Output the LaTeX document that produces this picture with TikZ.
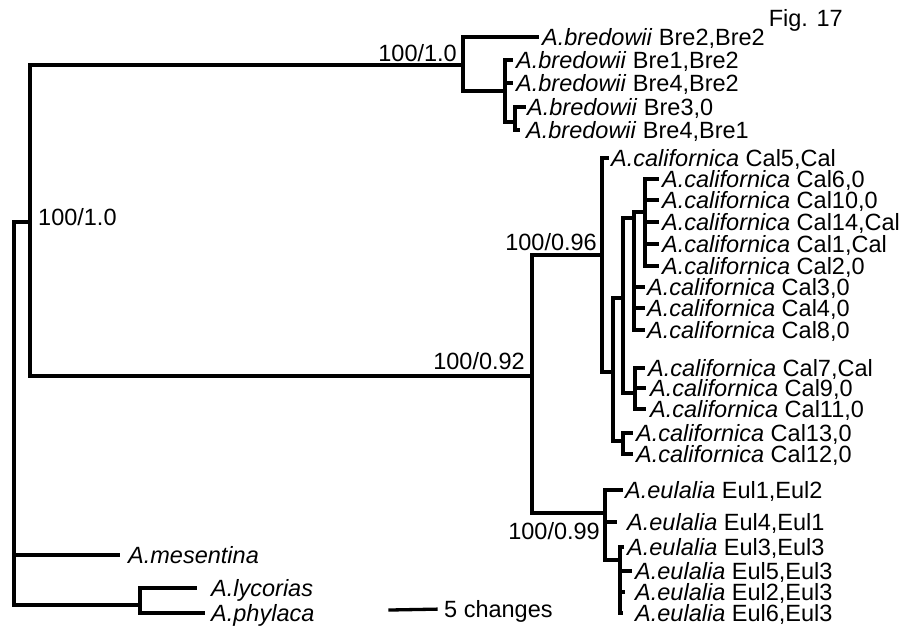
\documentclass[tikz,border=0pt]{standalone}
\usepackage{fontspec}
\setmainfont{Liberation Sans}
\tikzset{
  br/.style={line width=3.3pt, line cap=rect, line join=miter},
  tip/.style={anchor=west, inner sep=0pt, text height=17pt, text depth=0pt, font=\fontsize{23.5}{23.5}\selectfont},
  lab/.style={inner sep=0pt, text height=17pt, text depth=0pt, font=\fontsize{23.5}{23.5}\selectfont},
  gap/.style={shorten >=#1}
}
\newcommand{\taxon}[2]{\textit{A.#1} #2}
\begin{document}
\begin{tikzpicture}[x=1pt,y=-1pt]
\useasboundingbox (0,0) rectangle (909,629);
\fill[white] (0,0) rectangle (909,629);
% internal nodes
\coordinate (R) at (14,400);
\coordinate (n1) at (30,222);
\coordinate (nB) at (463,65);
\coordinate (nB2) at (505,91);
\coordinate (nB3) at (515,122);
\coordinate (n92) at (532,376);
\coordinate (n96) at (602,255);
\coordinate (d1) at (613,372);
\coordinate (d2) at (623,298);
\coordinate (d3) at (634,218);
\coordinate (d4) at (645,212);
\coordinate (n7) at (635,393);
\coordinate (n13) at (623,441);
\coordinate (n99) at (605,513);
\coordinate (ne) at (620,560);
\coordinate (nLP) at (140,605);
% tips
\node[tip] (b1) at (542,37) {\taxon{bredowii}{Bre2,Bre2}};
\node[tip] (b2) at (516,60) {\taxon{bredowii}{Bre1,Bre2}};
\node[tip] (b3) at (516,83) {\taxon{bredowii}{Bre4,Bre2}};
\node[tip] (b4) at (527,107) {\taxon{bredowii}{Bre3,0}};
\node[tip] (b5) at (526,130) {\taxon{bredowii}{Bre4,Bre1}};
\node[tip] (c5) at (611,158) {\taxon{californica}{Cal5,Cal}};
\node[tip] (c6) at (662,179) {\taxon{californica}{Cal6,0}};
\node[tip] (c10) at (662,200) {\taxon{californica}{Cal10,0}};
\node[tip] (c14) at (662,222) {\taxon{californica}{Cal14,Cal}};
\node[tip] (c1) at (662,244) {\taxon{californica}{Cal1,Cal}};
\node[tip] (c2) at (662,266) {\taxon{californica}{Cal2,0}};
\node[tip] (c3) at (647,287) {\taxon{californica}{Cal3,0}};
\node[tip] (c4) at (647,308) {\taxon{californica}{Cal4,0}};
\node[tip] (c8) at (647,330) {\taxon{californica}{Cal8,0}};
\node[tip] (c7) at (648,368) {\taxon{californica}{Cal7,Cal}};
\node[tip] (c9) at (650,388) {\taxon{californica}{Cal9,0}};
\node[tip] (c11) at (650,409) {\taxon{californica}{Cal11,0}};
\node[tip] (c13) at (636,433) {\taxon{californica}{Cal13,0}};
\node[tip] (c12) at (636,454) {\taxon{californica}{Cal12,0}};
\node[tip] (e1) at (625,490) {\taxon{eulalia}{Eul1,Eul2}};
\node[tip] (e4) at (627,522) {\taxon{eulalia}{Eul4,Eul1}};
\node[tip] (e3) at (627,547) {\taxon{eulalia}{Eul3,Eul3}};
\node[tip] (e5) at (635,571) {\taxon{eulalia}{Eul5,Eul3}};
\node[tip] (e2) at (635,592) {\taxon{eulalia}{Eul2,Eul3}};
\node[tip] (e6) at (635,613) {\taxon{eulalia}{Eul6,Eul3}};
\node[tip] (mes) at (128,555) {\textit{A.mesentina}};
\node[tip] (lyc) at (211,588) {\textit{A.lycorias}};
\node[tip] (phy) at (211,613) {\textit{A.phylaca}};
% support labels
\node[lab, anchor=west] (l1) at (38,217) {100/1.0};
\node[lab, anchor=east] (l2) at (457,53) {100/1.0};
\node[lab, anchor=east] (l3) at (525,361) {100/0.92};
\node[lab, anchor=east] (l4) at (597,242) {100/0.96};
\node[lab, anchor=east] (l5) at (600,531) {100/0.99};
\node[lab, anchor=east] (fig) at (843,18.5) {Fig. 17};
% scale bar
\coordinate (s1) at (390,610);
\node[tip] (st) at (444,609) {5 changes};
\draw[br, gap=8pt] (s1) -- (st.west);
% branches
\draw[br] (R) |- (n1);
\draw[br, gap=10pt] (R) |- (mes.west);
\draw[br] (R) |- (nLP);
\draw[br, gap=16pt] (nLP) |- (lyc.west);
\draw[br, gap=8pt] (nLP) |- (phy.west);
\draw[br] (n1) |- (nB);
\draw[br] (n1) |- (n92);
\draw[br, gap=5pt] (nB) |- (b1.west);
\draw[br] (nB) |- (nB2);
\draw[br, gap=5pt] (nB2) |- (b2.west);
\draw[br, gap=5pt] (nB2) |- (b3.west);
\draw[br] (nB2) |- (nB3);
\draw[br, gap=3pt] (nB3) |- (b4.west);
\draw[br, gap=8pt] (nB3) |- (b5.west);
\draw[br] (n92) |- (n96);
\draw[br] (n92) |- (n99);
\draw[br, gap=4pt] (n96) |- (c5.west);
\draw[br] (n96) |- (d1);
\draw[br] (d1) |- (d2);
\draw[br] (d1) |- (n13);
\draw[br] (d2) |- (d3);
\draw[br] (d2) |- (n7);
\draw[br] (d3) |- (d4);
\draw[br, gap=4pt] (d3) |- (c3.west);
\draw[br, gap=4pt] (d3) |- (c4.west);
\draw[br, gap=4pt] (d3) |- (c8.west);
\draw[br, gap=5pt] (d4) |- (c6.west);
\draw[br, gap=5pt] (d4) |- (c10.west);
\draw[br, gap=5pt] (d4) |- (c14.west);
\draw[br, gap=5pt] (d4) |- (c1.west);
\draw[br, gap=5pt] (d4) |- (c2.west);
\draw[br, gap=5pt] (n7) |- (c7.west);
\draw[br, gap=6pt] (n7) |- (c9.west);
\draw[br, gap=6pt] (n7) |- (c11.west);
\draw[br, gap=5pt] (n13) |- (c13.west);
\draw[br, gap=5pt] (n13) |- (c12.west);
\draw[br, gap=4pt] (n99) |- (e1.west);
\draw[br, gap=12pt] (n99) |- (e4.west);
\draw[br] (n99) |- (ne);
\draw[br, gap=5pt] (ne) |- (e3.west);
\draw[br, gap=5pt] (ne) |- (e5.west);
\draw[br, gap=12pt] (ne) |- (e2.west);
\draw[br, gap=14pt] (ne) |- (e6.west);
\end{tikzpicture}
\end{document}
